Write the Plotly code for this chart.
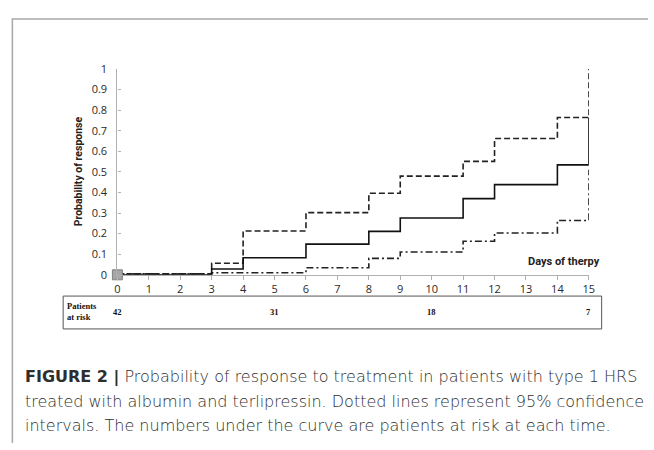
import plotly.graph_objects as go

# Kaplan-Meier style step data (step after each day)
days = [0, 3, 4, 6, 8, 9, 11, 12, 14, 15]
prob = [0.0, 0.028, 0.083, 0.149, 0.211, 0.276, 0.37, 0.438, 0.534, 0.764]
upper = [0.005, 0.056, 0.213, 0.302, 0.396, 0.479, 0.551, 0.662, 0.764, 1.0]
lower = [0.005, 0.01, 0.01, 0.034, 0.08, 0.111, 0.163, 0.203, 0.264, 0.51]

risk_days = [0, 5, 10, 15]
risk_counts = [42, 31, 18, 7]

x_ticks = list(range(0, 16))
y_ticks = [0, 0.1, 0.2, 0.3, 0.4, 0.5, 0.6, 0.7, 0.8, 0.9, 1]
y_ticklabels = ["0", "0.1", "0.2", "0.3", "0.4", "0.5", "0.6", "0.7", "0.8", "0.9", "1"]

W, H = 654, 450
def px(x):
    return x / W
def py(y):
    return 1 - y / H

fig = go.Figure()
fig.add_trace(go.Scatter(x=days, y=upper, mode="lines", line=dict(shape="hv", color="#222", width=1.6, dash="6px,3px"), showlegend=False, cliponaxis=False))
fig.add_trace(go.Scatter(x=days, y=lower, mode="lines", line=dict(shape="hv", color="#222", width=1.6, dash="7px,3px,2px,3px"), showlegend=False, cliponaxis=False))
fig.add_trace(go.Scatter(x=days, y=prob, mode="lines", line=dict(shape="hv", color="#111", width=1.6), showlegend=False, cliponaxis=False))
fig.add_trace(go.Scatter(x=[0], y=[0], mode="markers", marker=dict(symbol="square", size=10, color="#a6a6a6", line=dict(color="#808080", width=1)), showlegend=False, cliponaxis=False))

axis_font = dict(family="Open Sans, DejaVu Sans", size=11, color="#2a2a2a")
fig.update_layout(
    width=W, height=H,
    margin=dict(l=0, r=0, t=0, b=0),
    paper_bgcolor="white", plot_bgcolor="white",
    xaxis=dict(domain=[px(116), px(594)], range=[0, 15], tickvals=x_ticks,
               showgrid=False, zeroline=False, showline=True, linecolor="#b0b0b0", linewidth=1.2,
               ticks="outside", ticklen=4, tickcolor="#b0b0b0", tickfont=axis_font, anchor="y"),
    yaxis=dict(domain=[py(276), py(63)], range=[0, 1], tickvals=y_ticks, ticktext=y_ticklabels,
               showgrid=False, zeroline=False, showline=True, linecolor="#b0b0b0", linewidth=1.2,
               ticks="inside", ticklen=3, tickcolor="#b0b0b0", tickfont=axis_font, anchor="x",
               ticklabelstandoff=7),
)

# Y axis title
fig.add_annotation(x=px(76), y=py(169), xref="paper", yref="paper", xanchor="center", yanchor="middle",
                   text="<b>Probability of response</b>", showarrow=False, textangle=-90,
                   font=dict(family="Roboto, Open Sans", size=10.5, color="#222"))

# X axis label "Days of therpy"
fig.add_annotation(x=px(607), y=py(262.5), xref="paper", yref="paper", xanchor="right", yanchor="middle",
                   text="<b>Days of therpy</b>", showarrow=False,
                   font=dict(family="Roboto, Open Sans", size=11, color="#222"))

# Risk table box
fig.add_shape(type="rect", xref="paper", yref="paper", x0=px(61), x1=px(607), y0=py(332), y1=py(298),
              line=dict(color="#555", width=1))
fig.add_annotation(x=px(63), y=py(314), xref="paper", yref="paper", xanchor="left", yanchor="middle",
                   text="<b>Patients<br>at risk</b>", showarrow=False, align="left",
                   font=dict(family="Liberation Serif, Times New Roman", size=8.5, color="#111"))
for d, c in zip(risk_days, risk_counts):
    fig.add_annotation(x=d, y=py(314), xref="x", yref="paper", xanchor="center", yanchor="middle",
                       text=f"<b>{c}</b>", showarrow=False,
                       font=dict(family="Liberation Serif, Times New Roman", size=8.5, color="#111"))

# Outer frame
fig.add_shape(type="path", xref="paper", yref="paper",
              path=f"M {px(9.5)},0 L {px(9.5)},{py(11.5)} L 1,{py(11.5)}",
              line=dict(color="#a8a8a8", width=1.5))

# Caption
cap_font = dict(family="DejaVu Sans, Open Sans", size=16, color="#2e2e2e", weight=300)
lines = [
    "<b>FIGURE 2 |</b> Probability of response to treatment in patients with type 1 HRS",
    "treated with albumin and terlipressin. Dotted lines represent 95% confidence",
    "intervals. The numbers under the curve are patients at risk at each time.",
]
for i, t in enumerate(lines):
    fig.add_annotation(x=px(20), y=py(382 + 25 * i), xref="paper", yref="paper", xanchor="left", yanchor="middle",
                       text=t, showarrow=False, font=cap_font)

fig.write_html("out.html")
